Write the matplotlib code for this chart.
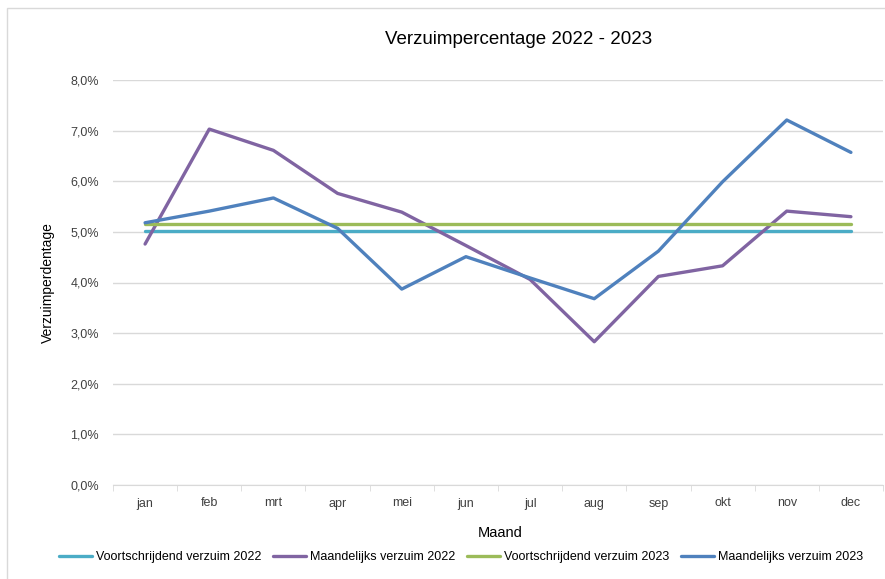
import matplotlib
matplotlib.use("Agg")
import matplotlib.pyplot as plt
from matplotlib.patches import Rectangle
from matplotlib.ticker import FuncFormatter, FixedLocator

plt.rcParams["font.family"] = ["Liberation Sans", "DejaVu Sans"]

months = ["jan", "feb", "mrt", "apr", "mei", "jun", "jul", "aug", "sep", "okt", "nov", "dec"]
voortschrijdend_2022 = [5.02] * 12
maandelijks_2022 = [4.76, 7.03, 6.61, 5.76, 5.39, 4.73, 4.06, 2.83, 4.12, 4.33, 5.41, 5.30]
voortschrijdend_2023 = [5.16] * 12
maandelijks_2023 = [5.18, 5.41, 5.67, 5.07, 3.87, 4.51, 4.09, 3.68, 4.62, 5.99, 7.21, 6.57]

series = [
    ("Voortschrijdend verzuim 2022", voortschrijdend_2022, "#4BACC6"),
    ("Maandelijks verzuim 2022", maandelijks_2022, "#8064A2"),
    ("Voortschrijdend verzuim 2023", voortschrijdend_2023, "#9BBB59"),
    ("Maandelijks verzuim 2023", maandelijks_2023, "#4F81BD"),
]

fig = plt.figure(figsize=(8.85, 5.79), dpi=100)
ax = fig.add_axes([113 / 885, 1 - 485 / 579, 770 / 885, 405 / 579])

x = list(range(len(months)))
for label, values, color in series:
    ax.plot(x, values, color=color, lw=2.4, label=label, solid_capstyle="round", zorder=3)

ax.set_xlim(-0.5, 11.5)
ax.set_ylim(0, 8)
ax.set_yticks(range(0, 9))
ax.yaxis.set_major_formatter(FuncFormatter(lambda v, _: f"{v:.1f}%".replace(".", ",")))
ax.set_xticks(x)
ax.set_xticklabels(months)
ax.xaxis.set_minor_locator(FixedLocator([i - 0.5 for i in range(13)]))

ax.grid(axis="y", color="#D9D9D9", lw=1)
ax.set_axisbelow(True)
for side in ["top", "right", "left"]:
    ax.spines[side].set_visible(False)
ax.spines["bottom"].set_color("#D9D9D9")
ax.tick_params(axis="y", length=0, labelsize=9, colors="#404040", pad=10)
ax.tick_params(axis="x", which="major", length=0, labelsize=9, colors="#404040", pad=9)
ax.tick_params(axis="x", which="minor", length=4, color="#D9D9D9", direction="out")

ax.set_ylabel("Verzuimperdentage", fontsize=10, color="#000000")
ax.yaxis.set_label_coords(-(113 - 55) / 770, 0.5)
fig.text(500 / 885, 1 - 533 / 579, "Maand", ha="center", va="center", fontsize=10.5)
fig.text(519 / 885, 1 - 40 / 579, "Verzuimpercentage 2022 - 2023", ha="center", va="center",
         fontsize=13.5)

fig.legend(loc="center", bbox_to_anchor=(461 / 885, 1 - 557 / 579), ncol=4, frameon=False,
           fontsize=9, handlelength=2.6, handletextpad=0.3, columnspacing=1.0)

fig.patches.append(Rectangle((7 / 885, -0.01), 1.0, 1 - 8 / 579 + 0.01, transform=fig.transFigure,
                             fill=False, edgecolor="#D9D9D9", lw=1))

fig.savefig("out.png", dpi=100)
